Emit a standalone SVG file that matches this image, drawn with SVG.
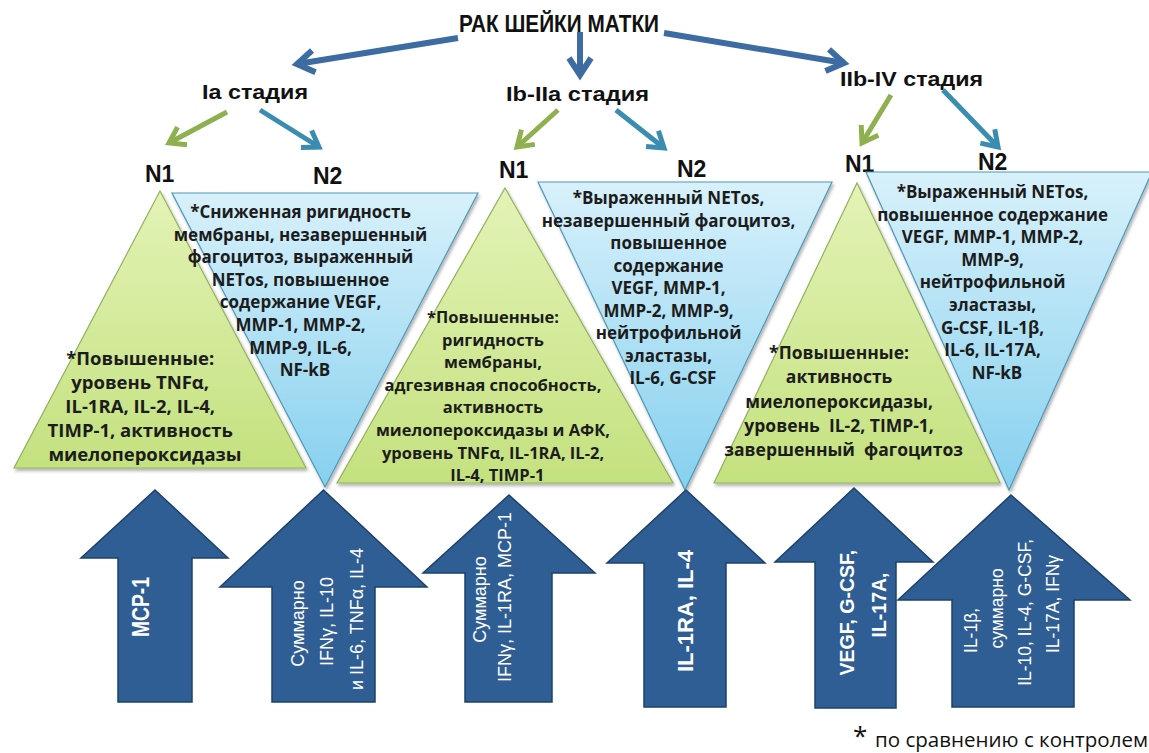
<svg xmlns="http://www.w3.org/2000/svg" width="1149" height="753" viewBox="0 0 1149 753">
  <style>
    .tri-g { fill: url(#gGreen); stroke: #93b25f; stroke-width: 1.2; filter: url(#shadow); }
    .tri-b { fill: url(#gBlue); stroke: #4f98b8; stroke-width: 1.2; filter: url(#shadow); }
    .txt { font-family: "Open Sans", "Noto Sans", sans-serif; font-weight: 700; fill: #1c1c1c; text-anchor: middle; white-space: pre; }
    .lbl { font-family: "Liberation Sans", Arial, sans-serif; font-weight: 700; fill: #111; }
    .big { fill: #2f5e95; stroke: #1d416b; stroke-width: 1.5; }
    .wt { font-family: "Liberation Sans", Arial, sans-serif; fill: #fff; text-anchor: middle; }
    .wtb { font-weight: 700; }
    .c-blue { stroke: #3d6ca2; stroke-width: 6; fill: none; marker-end: url(#hBlue); }
    .c-green { stroke: #8eb04e; stroke-width: 5; fill: none; marker-end: url(#hGreen); }
    .c-teal { stroke: #3a8cb0; stroke-width: 5; fill: none; marker-end: url(#hTeal); }
    .note { font-family: "Open Sans", "Noto Sans", sans-serif; fill: #111; }
  </style>
  <defs>
    <linearGradient id="gGreen" x1="0" y1="0" x2="0" y2="1">
      <stop offset="0" stop-color="#e3f3b6"/>
      <stop offset="1" stop-color="#c4e17f"/>
    </linearGradient>
    <linearGradient id="gBlue" x1="0" y1="0" x2="0" y2="1">
      <stop offset="0" stop-color="#d8f1fb"/>
      <stop offset="1" stop-color="#86d0ee"/>
    </linearGradient>
    <filter id="shadow" x="-10%" y="-10%" width="120%" height="120%">
      <feDropShadow dx="1.5" dy="2.5" stdDeviation="1.8" flood-color="#000" flood-opacity="0.3"/>
    </filter>
    <marker id="hBlue" markerUnits="userSpaceOnUse" markerWidth="40" markerHeight="40" refX="0" refY="0" orient="auto" overflow="visible">
      <path d="M-17,-11 L0,0 L-17,11" fill="none" stroke="#3d6ca2" stroke-width="6" stroke-linejoin="miter"/>
    </marker>
    <marker id="hGreen" markerUnits="userSpaceOnUse" markerWidth="40" markerHeight="40" refX="0" refY="0" orient="auto" overflow="visible">
      <path d="M-15,-10 L0,0 L-15,10" fill="none" stroke="#8eb04e" stroke-width="5" stroke-linejoin="miter"/>
    </marker>
    <marker id="hTeal" markerUnits="userSpaceOnUse" markerWidth="40" markerHeight="40" refX="0" refY="0" orient="auto" overflow="visible">
      <path d="M-15,-10 L0,0 L-15,10" fill="none" stroke="#3a8cb0" stroke-width="5" stroke-linejoin="miter"/>
    </marker>
  </defs>

  <rect width="1149" height="753" fill="#fff"/>

  <!-- root and stage labels -->
  <g id="root">
    <text class="lbl" x="459" y="32" font-size="24" textLength="200" lengthAdjust="spacingAndGlyphs">РАК ШЕЙКИ МАТКИ</text>
  </g>
  <g id="stage-ia">
    <text class="lbl" x="202" y="99" font-size="21" textLength="106" lengthAdjust="spacingAndGlyphs">Ia стадия</text>
  </g>
  <g id="stage-ib-iia">
    <text class="lbl" x="506" y="101" font-size="21" textLength="143" lengthAdjust="spacingAndGlyphs">Ib-IIa стадия</text>
  </g>
  <g id="stage-iib-iv">
    <text class="lbl" x="840" y="86" font-size="21" textLength="143" lengthAdjust="spacingAndGlyphs">IIb-IV стадия</text>
  </g>

  <!-- connectors -->
  <g id="connectors">
    <line class="c-blue" x1="458" y1="38" x2="297" y2="64"/>
    <line class="c-blue" x1="580" y1="32" x2="580" y2="75"/>
    <line class="c-blue" x1="664" y1="33" x2="844" y2="63"/>
    <line class="c-green" x1="227" y1="112" x2="169" y2="143"/>
    <line class="c-teal" x1="260" y1="110" x2="319" y2="147"/>
    <line class="c-green" x1="558" y1="110" x2="517" y2="147"/>
    <line class="c-teal" x1="616" y1="110" x2="664" y2="148"/>
    <line class="c-green" x1="891" y1="95" x2="862" y2="143"/>
    <line class="c-teal" x1="943" y1="90" x2="998" y2="147"/>
  </g>

  <!-- Ia, N1 -->
  <g id="ia-n1">
    <text class="lbl" x="145" y="182" font-size="23">N1</text>
    <polygon class="tri-g" points="160,191 306,468 14,468"/>
    <text class="txt" font-size="18.5">
      <tspan x="157" y="365">*Повышенные:</tspan>
      <tspan x="157" y="389">уровень TNFα,</tspan>
      <tspan x="157" y="413">IL-1RA, IL-2, IL-4,</tspan>
      <tspan x="157" y="437">TIMP-1, активность</tspan>
      <tspan x="157" y="461">миелопероксидазы</tspan>
    </text>
  </g>

  <!-- Ia, N2 -->
  <g id="ia-n2">
    <text class="lbl" x="313" y="184" font-size="23">N2</text>
    <polygon class="tri-b" points="172,193 478,193 325,487"/>
    <text class="txt" font-size="17">
      <tspan x="316" y="218">*Сниженная ригидность</tspan>
      <tspan x="316" y="240.6">мембраны, незавершенный</tspan>
      <tspan x="316" y="263.2">фагоцитоз, выраженный</tspan>
      <tspan x="316" y="285.8">NETos, повышенное</tspan>
      <tspan x="316" y="308.4">содержание VEGF,</tspan>
      <tspan x="316" y="331">MMP-1, MMP-2,</tspan>
      <tspan x="316" y="353.6">MMP-9, IL-6,</tspan>
      <tspan x="316" y="376.2">NF-kB</tspan>
    </text>
  </g>

  <!-- Ib-IIa, N1 -->
  <g id="ib-n1">
    <text class="lbl" x="499" y="178" font-size="23">N1</text>
    <polygon class="tri-g" points="505,188 673,483 337,483"/>
    <text class="txt" font-size="16.5">
      <tspan x="508" y="323">*Повышенные:</tspan>
      <tspan x="508" y="345.6">ригидность</tspan>
      <tspan x="508" y="368.2">мембраны,</tspan>
      <tspan x="508" y="390.8">адгезивная способность,</tspan>
      <tspan x="508" y="413.4">активность</tspan>
      <tspan x="508" y="436">миелопероксидазы и АФК,</tspan>
      <tspan x="508" y="458.6">уровень TNFα, IL-1RA, IL-2,</tspan>
      <tspan x="508" y="481">IL-4, TIMP-1</tspan>
    </text>
  </g>

  <!-- Ib-IIa, N2 -->
  <g id="ib-n2">
    <text class="lbl" x="677" y="177" font-size="23">N2</text>
    <polygon class="tri-b" points="538,182 832,182 685,490"/>
    <text class="txt" font-size="17">
      <tspan x="684" y="204">*Выраженный NETos,</tspan>
      <tspan x="684" y="226.5">незавершенный фагоцитоз,</tspan>
      <tspan x="684" y="249">повышенное</tspan>
      <tspan x="684" y="271.5">содержание</tspan>
      <tspan x="684" y="294">VEGF, MMP-1,</tspan>
      <tspan x="684" y="316.5">MMP-2, MMP-9,</tspan>
      <tspan x="684" y="339">нейтрофильной</tspan>
      <tspan x="684" y="361.5">эластазы,</tspan>
      <tspan x="684" y="384">IL-6, G-CSF</tspan>
    </text>
  </g>

  <!-- IIb-IV, N1 -->
  <g id="iib-n1">
    <text class="lbl" x="845" y="172" font-size="23">N1</text>
    <polygon class="tri-g" points="857,183 1000,483 714,483"/>
    <text class="txt" font-size="17.5">
      <tspan x="855" y="359">*Повышенные:</tspan>
      <tspan x="855" y="383.3">активность</tspan>
      <tspan x="855" y="407.5">миелопероксидазы,</tspan>
      <tspan x="855" y="431.8">уровень  IL-2, TIMP-1,</tspan>
      <tspan x="855" y="456">завершенный  фагоцитоз</tspan>
    </text>
  </g>

  <!-- IIb-IV, N2 -->
  <g id="iib-n2">
    <text class="lbl" x="978" y="170" font-size="23">N2</text>
    <polygon class="tri-b" points="866,172 1152,172 1009,490"/>
    <text class="txt" font-size="17">
      <tspan x="1008" y="198">*Выраженный NETos,</tspan>
      <tspan x="1008" y="220.6">повышенное содержание</tspan>
      <tspan x="1008" y="243.2">VEGF, MMP-1, MMP-2,</tspan>
      <tspan x="1008" y="265.8">MMP-9,</tspan>
      <tspan x="1008" y="288.4">нейтрофильной</tspan>
      <tspan x="1008" y="311">эластазы,</tspan>
      <tspan x="1008" y="333.6">G-CSF, IL-1β,</tspan>
      <tspan x="1008" y="356.2">IL-6, IL-17A,</tspan>
      <tspan x="1008" y="378.8">NF-kB</tspan>
    </text>
  </g>

  <!-- upward markers with raised factors -->
  <g id="up-ia-n1">
    <polygon class="big" points="155,490 228,558 192,558 192,702 118,702 118,558 81,558"/>
    <text class="wt wtb" transform="translate(155,607) rotate(-90)" font-size="24" x="0" y="-6" textLength="60" lengthAdjust="spacingAndGlyphs">MCP-1</text>
  </g>
  <g id="up-ia-n2">
    <polygon class="big" points="323.5,490 427,587 375,587 375,702 272,702 272,587 220,587"/>
    <text class="wt" transform="translate(323.5,619) rotate(-90)" font-size="18">
      <tspan x="-2" y="-19.5">Суммарно</tspan>
      <tspan x="0" y="9.5">IFNγ, IL-10</tspan>
      <tspan x="0" y="39.5">и IL-6, TNFα, IL-4</tspan>
    </text>
  </g>
  <g id="up-ib-n1">
    <polygon class="big" points="509,495 595,573 552,573 552,702 465,702 465,573 423,573"/>
    <text class="wt" transform="translate(509,597) rotate(-90)" font-size="18">
      <tspan x="0" y="-23">Суммарно</tspan>
      <tspan x="0" y="2">IFNγ, IL-1RA, MCP-1</tspan>
    </text>
  </g>
  <g id="up-ib-n2">
    <polygon class="big" points="686,490 765,563 726,563 726,707 644,707 644,563 607,563"/>
    <text class="wt wtb" transform="translate(686,611) rotate(-90)" font-size="22" x="0" y="7">IL-1RA, IL-4</text>
  </g>
  <g id="up-iib-n1">
    <polygon class="big" points="854,488 933,562 896,562 896,708 815,708 815,562 775,562"/>
    <text class="wt wtb" transform="translate(854,610) rotate(-90)" font-size="19.5">
      <tspan x="0" y="0">VEGF, G-CSF,</tspan>
      <tspan x="5" y="32">IL-17A,</tspan>
    </text>
  </g>
  <g id="up-iib-n2">
    <polygon class="big" points="1011,495 1130,600 1074,600 1074,707 952,707 952,600 898,600"/>
    <text class="wt" transform="translate(1013,610) rotate(-90)" font-size="17.5">
      <tspan x="-18" y="-36">IL-1β,</tspan>
      <tspan x="4" y="-10">суммарно</tspan>
      <tspan x="0" y="18">IL-10, IL-4, G-CSF,</tspan>
      <tspan x="6" y="46">IL-17A, IFNγ</tspan>
    </text>
  </g>

  <!-- footnote -->
  <g id="footnote">
    <text class="note" x="853" y="745" font-size="26">*</text>
    <text class="note" x="875" y="747" font-size="19.5" textLength="273" lengthAdjust="spacingAndGlyphs">по сравнению с контролем</text>
  </g>
</svg>
